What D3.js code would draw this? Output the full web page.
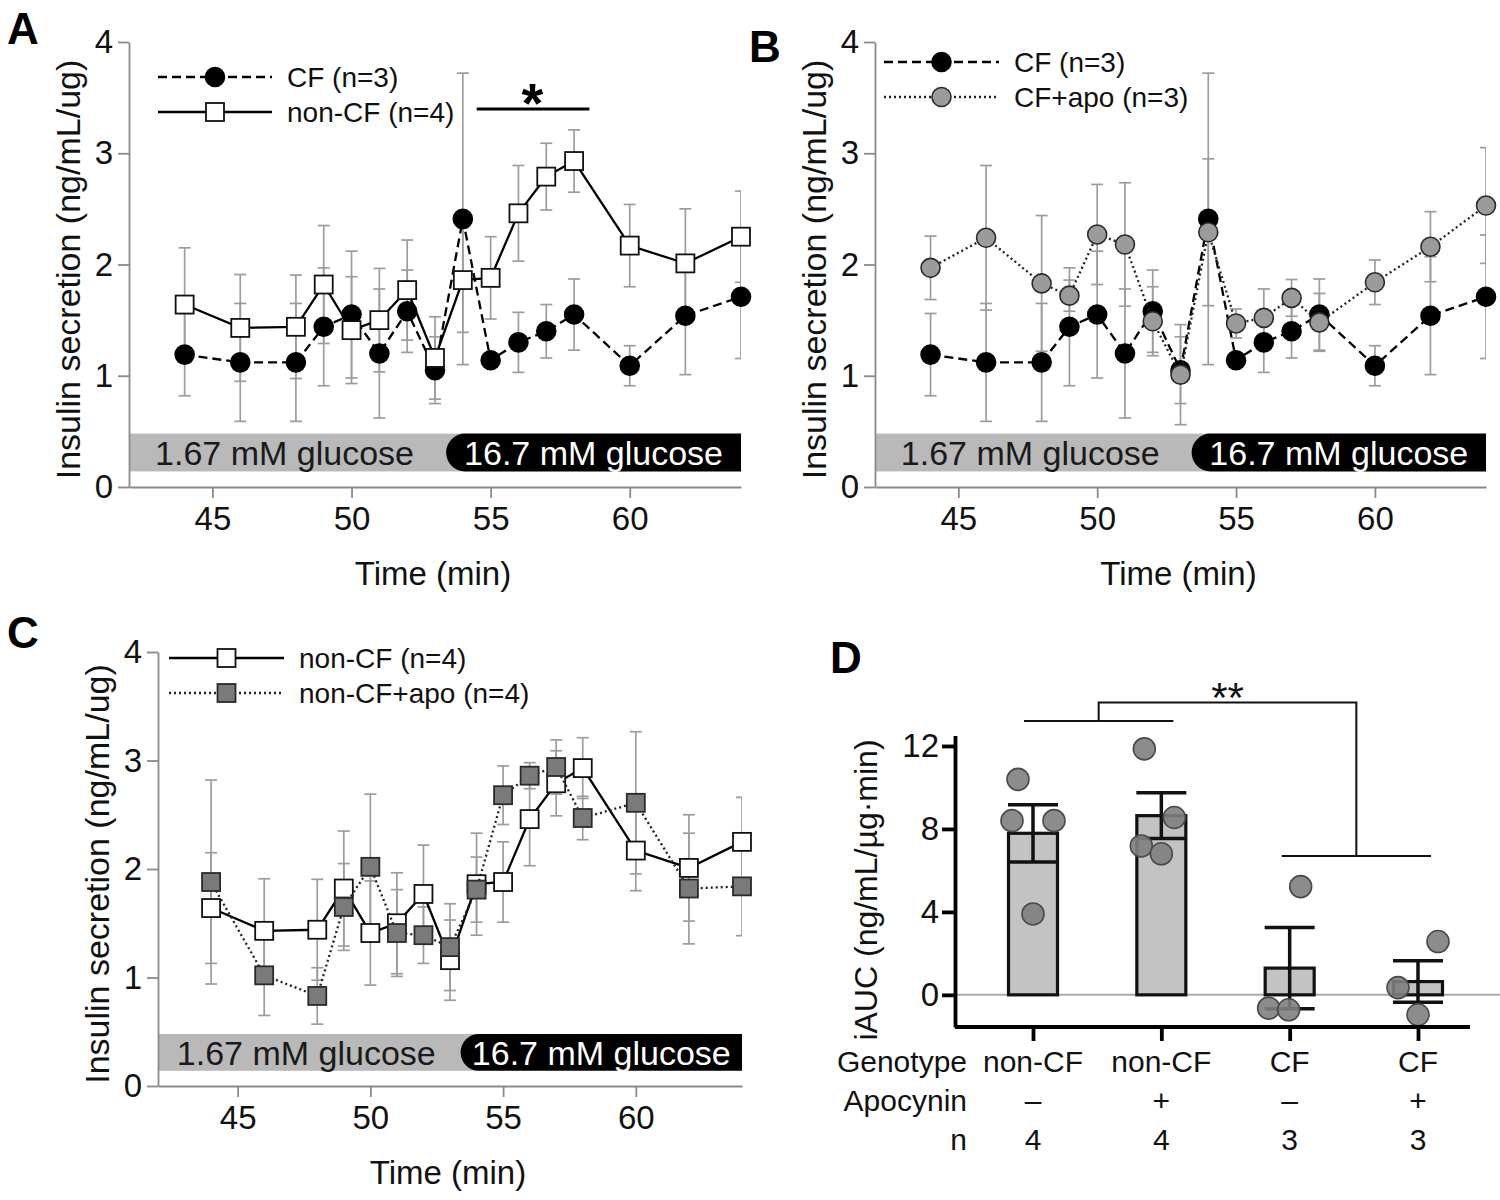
<!DOCTYPE html>
<html><head><meta charset="utf-8">
<script src="https://cdnjs.cloudflare.com/ajax/libs/d3/7.8.5/d3.min.js"></script>
<style>body{margin:0;background:#fff} svg{display:block} text{font-family:"Liberation Sans",Arial,sans-serif}</style>
</head><body>
<svg id="c" width="1500" height="1200"></svg>
<script>
// ---------- data ----------
const time = [44,46,48,49,50,51,52,53,54,55,56,57,58,60,62,64];
const xTicks = [45,50,55,60];
const yTicks = [0,1,2,3,4];
const cfMean = [1.19,1.12,1.12,1.44,1.55,1.20,1.58,1.05,2.41,1.14,1.30,1.40,1.55,1.09,1.54,1.71];
const cfErr  = [0.37,0.53,0.53,0.53,0.57,0.58,0.37,0.30,1.31,0.04,0.27,0.24,0.32,0.18,0.53,0.555];
const nonCFMean = [1.64,1.43,1.44,1.82,1.41,1.50,1.77,1.16,1.86,1.88,2.46,2.79,2.93,2.17,2.01,2.25];
const nonCFErr  = [0.51,0.48,0.465,0.53,0.48,0.465,0.45,0.37,0.47,0.37,0.43,0.30,0.28,0.37,0.49,0.41];
const cfApoMean = [1.97,2.24,1.83,1.72,2.27,2.18,1.49,1.01,2.29,1.47,1.52,1.70,1.48,1.84,2.16,2.53];
const cfApoErr  = [0.285,0.65,0.61,0.14,0.45,0.555,0.31,0.45,0.66,0.13,0.26,0.165,0.26,0.20,0.315,0.52];
const nonCFApoMean = [1.88,1.02,0.83,1.65,2.02,1.41,1.39,1.28,1.81,2.68,2.86,2.94,2.47,2.61,1.82,1.84];
const nonCFApoErr  = [0.94,0.37,0.26,0.40,0.67,0.40,0.26,0.40,0.30,0.27,0.12,0.25,0.20,0.655,0.51,0.455];
const glucoseLabels = ["1.67 mM glucose","16.7 mM glucose"];
const glucoseSwitch = 53.4;

const genotype = ["non-CF","non-CF","CF","CF"];
const apocynin = ["\u2013","+","\u2013","+"];
const nCount = [4,4,3,3];
const iaucMean = [7.79,8.64,1.29,0.64];
const iaucSem  = [1.38,1.10,1.96,1.00];
const iaucPoints = [[10.39,8.40,8.40,3.90],[11.86,8.55,7.18,6.80],[5.22,-0.64,-0.72],[2.57,0.35,-0.96]];
const iaucTicks = [0,4,8,12];

// ---------- styles ----------
const FONT = "Liberation Sans, Arial, sans-serif";
const styles = {
  cf:      {shape:"circle", fill:"#000", stroke:"#000", dash:"9,5", label:"CF (n=3)"},
  nonCF:   {shape:"square", fill:"#fff", stroke:"#111", dash:null, label:"non-CF (n=4)"},
  cfApo:   {shape:"circle", fill:"#9b9b9b", stroke:"#2a2a2a", dash:"2,3", label:"CF+apo (n=3)"},
  nonCFApo:{shape:"square", fill:"#7a7a7a", stroke:"#2a2a2a", dash:"2,3", label:"non-CF+apo (n=4)"}
};

const svg = d3.select("#c");
const defs = svg.append("defs");

function marker(g, st, cx, cy) {
  if (st.shape === "circle") {
    g.append("circle").attr("cx",cx).attr("cy",cy).attr("r",9.5)
      .attr("fill",st.fill).attr("stroke",st.stroke).attr("stroke-width",1.6);
  } else {
    g.append("rect").attr("x",cx-9).attr("y",cy-9).attr("width",18).attr("height",18)
      .attr("fill",st.fill).attr("stroke",st.stroke).attr("stroke-width",1.8);
  }
}

function timePanel(cfg) {
  const x = d3.scaleLinear().domain([42,64]).range([cfg.x0, cfg.x1]);
  const y = d3.scaleLinear().domain([0,4]).range([cfg.y0, cfg.y1]);
  const g = svg.append("g");
  const clipId = "clip" + cfg.id;
  defs.append("clipPath").attr("id",clipId).append("rect")
    .attr("x",cfg.x0).attr("y",0).attr("width",cfg.x1-cfg.x0).attr("height",1200);

  // glucose band
  const gy0 = y(0.48), gy1 = y(0.14), r = (gy1-gy0)/2;
  const xs = x(glucoseSwitch);
  g.append("rect").attr("x",cfg.x0).attr("y",gy0).attr("width",xs - cfg.x0 + r).attr("height",gy1-gy0).attr("fill","#b9b9b9");
  g.append("path").attr("d",`M${xs+r},${gy0}H${cfg.x1}V${gy1}H${xs+r}A${r},${r} 0 0 1 ${xs+r},${gy0}Z`).attr("fill","#000");
  g.append("text").attr("x",(cfg.x0+xs)/2 - 3).attr("y",(gy0+gy1)/2).attr("dy","0.36em")
    .attr("text-anchor","middle").attr("font-size",34).attr("fill","#1a1a1a").text(glucoseLabels[0]);
  g.append("text").attr("x",(xs+cfg.x1)/2).attr("y",(gy0+gy1)/2).attr("dy","0.36em")
    .attr("text-anchor","middle").attr("font-size",34).attr("fill","#fff").text(glucoseLabels[1]);

  // axes
  const ya = g.append("g").attr("transform",`translate(${cfg.x0},0)`)
    .call(d3.axisLeft(y).tickValues(yTicks).tickFormat(d3.format("d")).tickSize(11).tickSizeOuter(0).tickPadding(5));
  const xa = g.append("g").attr("transform",`translate(0,${cfg.y0})`)
    .call(d3.axisBottom(x).tickValues(xTicks).tickSize(11).tickSizeOuter(0).tickPadding(9));
  [ya,xa].forEach(a=>{
    a.select(".domain").attr("stroke","#8a8a8a").attr("stroke-width",1.8);
    a.selectAll(".tick line").attr("stroke","#8a8a8a").attr("stroke-width",1.8);
    a.selectAll(".tick text").attr("font-size",33).attr("font-family",FONT).attr("fill","#111");
  });

  // axis titles
  g.append("text").attr("transform",`translate(${cfg.x0-49},${(cfg.y0+cfg.y1)/2+5}) rotate(-90)`)
    .attr("text-anchor","middle").attr("font-size",34).attr("fill","#111").text("Insulin secretion (ng/mL/ug)");
  g.append("text").attr("x",(cfg.x0+cfg.x1)/2 - 2).attr("y",cfg.y0+98)
    .attr("text-anchor","middle").attr("font-size",33).attr("fill","#111").text("Time (min)");

  // error bars (all series first)
  cfg.series.forEach(s=>{
    const eb = g.append("g").attr("clip-path",`url(#${clipId})`).attr("stroke","#9c9c9c").attr("stroke-width",1.7);
    time.forEach((t,i)=>{
      const cx = x(t), hi = y(s.mean[i]+s.err[i]), lo = y(s.mean[i]-s.err[i]);
      eb.append("line").attr("x1",cx).attr("x2",cx).attr("y1",hi).attr("y2",lo);
      eb.append("line").attr("x1",cx-6).attr("x2",cx+6).attr("y1",hi).attr("y2",hi);
      eb.append("line").attr("x1",cx-6).attr("x2",cx+6).attr("y1",lo).attr("y2",lo);
    });
  });
  // lines + markers
  const line = d3.line().x(d=>x(d[0])).y(d=>y(d[1]));
  cfg.series.forEach(s=>{
    const st = styles[s.key];
    const pts = time.map((t,i)=>[t,s.mean[i]]);
    g.append("path").attr("d",line(pts)).attr("fill","none").attr("stroke",s.key.includes("Apo")?"#222":"#000")
      .attr("stroke-width",2.3).attr("stroke-dasharray",st.dash);
    const mg = g.append("g");
    pts.forEach(p=>marker(mg, st, x(p[0]), y(p[1])));
  });

  // legend
  cfg.series.forEach((s,i)=>{
    const st = styles[s.key];
    const ly = cfg.legY[i];
    g.append("line").attr("x1",cfg.legX[0]).attr("x2",cfg.legX[1]).attr("y1",ly).attr("y2",ly)
      .attr("stroke",s.key.includes("Apo")?"#222":"#000").attr("stroke-width",2.3).attr("stroke-dasharray",st.dash);
    marker(g, st, (cfg.legX[0]+cfg.legX[1])/2, ly);
    g.append("text").attr("x",cfg.legX[2]).attr("y",ly).attr("dy","0.36em").attr("font-size",28).attr("fill","#111").text(st.label);
  });

  // panel letter
  g.append("text").attr("x",cfg.letter[0]).attr("y",cfg.letter[1]).attr("font-size",44).attr("font-weight","bold").attr("fill","#000").text(cfg.id);
  return {g,x,y};
}

// Panel A
const A = timePanel({id:"A", x0:129, x1:741, y0:487, y1:42,
  series:[{key:"cf",mean:cfMean,err:cfErr},{key:"nonCF",mean:nonCFMean,err:nonCFErr}],
  legX:[158,272,287], legY:[77,112], letter:[7,44]});
// significance in A
A.g.append("line").attr("x1",A.x(54.5)).attr("x2",A.x(58.55)).attr("y1",109).attr("y2",109).attr("stroke","#000").attr("stroke-width",3);
A.g.append("text").attr("x",A.x(56.5)).attr("y",122).attr("text-anchor","middle").attr("font-size",56).attr("font-weight","bold").attr("fill","#000").text("*");

// Panel B
timePanel({id:"B", x0:875, x1:1486, y0:487, y1:42,
  series:[{key:"cf",mean:cfMean,err:cfErr},{key:"cfApo",mean:cfApoMean,err:cfApoErr}],
  legX:[884,999,1014], legY:[62,97], letter:[749,62]});

// Panel C
timePanel({id:"C", x0:158, x1:742, y0:1086, y1:652,
  series:[{key:"nonCF",mean:nonCFMean,err:nonCFErr},{key:"nonCFApo",mean:nonCFApoMean,err:nonCFApoErr}],
  legX:[169,284,299], legY:[658,693], letter:[7,648]});

// ---------- Panel D ----------
const D = svg.append("g");
const keys = genotype.map((gname,i)=>gname+" "+apocynin[i]);
const xD = d3.scalePoint().domain(keys).range([1033,1418]);
const yD = d3.scaleLinear().domain([-1.55,12.5]).range([1027,735.6]);
const bw = 49;

// zero line
D.append("line").attr("x1",955).attr("x2",1500).attr("y1",yD(0)).attr("y2",yD(0)).attr("stroke","#aaa").attr("stroke-width",2);

// bars
keys.forEach((k,i)=>{
  const cx = xD(k);
  D.append("rect").attr("x",cx-bw/2).attr("y",yD(iaucMean[i])).attr("width",bw).attr("height",yD(0)-yD(iaucMean[i]))
    .attr("fill","#c3c3c3").attr("stroke","#111").attr("stroke-width",3.2);
});
// error bars
keys.forEach((k,i)=>{
  const cx = xD(k), hi = yD(iaucMean[i]+iaucSem[i]), lo = yD(iaucMean[i]-iaucSem[i]);
  const eg = D.append("g").attr("stroke","#111").attr("stroke-width",3.5);
  eg.append("line").attr("x1",cx).attr("x2",cx).attr("y1",hi).attr("y2",lo);
  eg.append("line").attr("x1",cx-25).attr("x2",cx+25).attr("y1",hi).attr("y2",hi);
  eg.append("line").attr("x1",cx-25).attr("x2",cx+25).attr("y1",lo).attr("y2",lo);
});
// dots (horizontal jitter offsets for readability)
const jitter = [[-15,-21,21,0],[-17,13,-20,0],[11,-21,-1],[20,-20,0]];
keys.forEach((k,i)=>{
  iaucPoints[i].forEach((v,j)=>{
    D.append("circle").attr("cx",xD(k)+jitter[i][j]).attr("cy",yD(v)).attr("r",11)
      .attr("fill","#7f7f7f").attr("fill-opacity",0.9).attr("stroke","#4a4a4a").attr("stroke-width",1.6);
  });
});

// axes
const yaD = D.append("g").attr("transform","translate(955,0)")
  .call(d3.axisLeft(yD).tickValues(iaucTicks).tickSize(13).tickSizeOuter(0).tickPadding(3));
const xaD = D.append("g").attr("transform",`translate(0,${yD(-1.55)})`)
  .call(d3.axisBottom(xD).tickSize(14).tickSizeOuter(0).tickFormat(""));
xaD.select(".domain").attr("d","M955,0H1470");
[yaD,xaD].forEach(a=>{
  a.select(".domain").attr("stroke","#000").attr("stroke-width",3.8);
  a.selectAll(".tick line").attr("stroke","#000").attr("stroke-width",3.8);
  a.selectAll(".tick text").attr("font-size",33).attr("font-family",FONT).attr("fill","#111");
});

// category rows
const rows = [["Genotype",genotype,1072],["Apocynin",apocynin,1111],["n",nCount,1150]];
rows.forEach(([lab,vals,yy])=>{
  D.append("text").attr("x",967).attr("y",yy).attr("text-anchor","end").attr("font-size",30).attr("fill","#111").text(lab);
  keys.forEach((k,i)=>{
    D.append("text").attr("x",xD(k)).attr("y",yy).attr("text-anchor","middle").attr("font-size",30).attr("fill","#111").text(vals[i]);
  });
});

// y title
D.append("text").attr("transform",`translate(877,890) rotate(-90)`).attr("text-anchor","middle")
  .attr("font-size",32).attr("fill","#111").text("iAUC (ng/mL/\u00b5g\u00b7min)");

// significance brackets
const br = D.append("g").attr("stroke","#111").attr("stroke-width",2).attr("fill","none");
const lA = xD(keys[0])-9, lB = xD(keys[1])+12, rA = xD(keys[2])-8, rB = xD(keys[3])+13;
const lm = (lA+lB)/2, rm = (rA+rB)/2;
br.append("path").attr("d",`M${lA},${yD(13.2)}H${lB}`);
br.append("path").attr("d",`M${rA},${yD(6.7)}H${rB}`);
br.append("path").attr("d",`M${lm},${yD(13.2)}V${yD(14.1)}H${rm}V${yD(6.7)}`);
D.append("text").attr("x",(lm+rm)/2).attr("y",712).attr("text-anchor","middle").attr("font-size",42).attr("fill","#111").text("**");

// letter D
D.append("text").attr("x",830).attr("y",673).attr("font-size",44).attr("font-weight","bold").attr("fill","#000").text("D");
</script>
</body></html>
